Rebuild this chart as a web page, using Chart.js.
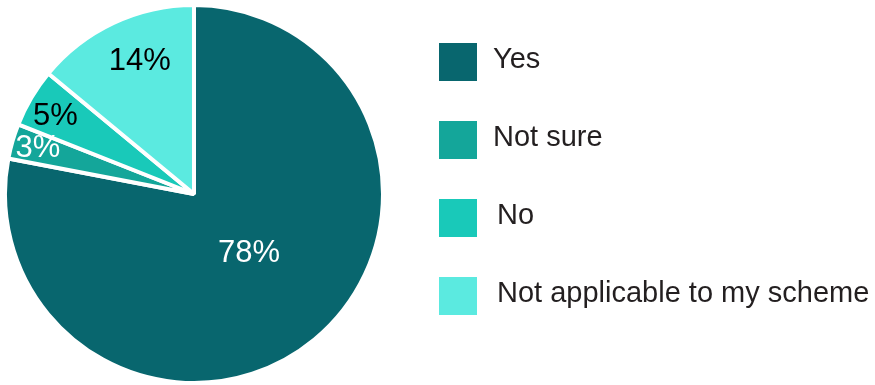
<!DOCTYPE html>
<html>
<head>
<meta charset="utf-8">
<script src="https://cdn.jsdelivr.net/npm/chart.js@4"></script>
<style>
  body { margin: 0; background: #fff; }
  #wrap { width: 875px; height: 385px; position: relative; }
</style>
</head>
<body>
<div id="wrap"><canvas id="myChart"></canvas></div>
<script>
// data
var answer_labels = ['Yes', 'Not sure', 'No', 'Not applicable to my scheme'];
var answer_values = [78, 3, 5, 14];

// styling
var slice_colors = ['#08666e', '#14a69a', '#19c9b9', '#5beae0'];
var value_colors = ['#ffffff', '#ffffff', '#000000', '#000000'];
var value_radius = [0.43, 0.86, 0.84, 0.76];   // label distance as share of radius
var value_turn = [-3, 0, -1.4, 3];             // small angle tweak in degrees
var legend_text_x = [493, 493, 497, 497];

// draws the % text on each slice
var sliceLabels = {
  id: 'sliceLabels',
  afterDatasetsDraw: function(chart) {
    var ctx = chart.ctx;
    var arcs = chart.getDatasetMeta(0).data;
    ctx.save();
    ctx.font = '31px "Liberation Sans", Arial, sans-serif';
    ctx.textAlign = 'center';
    ctx.textBaseline = 'middle';
    arcs.forEach(function(arc, i) {
      var mid = (arc.startAngle + arc.endAngle) / 2 + value_turn[i] * Math.PI / 180;
      var r = arc.outerRadius * value_radius[i];
      ctx.fillStyle = value_colors[i];
      ctx.fillText(chart.data.datasets[0].data[i] + '%', arc.x + Math.cos(mid) * r, arc.y + Math.sin(mid) * r);
    });
    ctx.restore();
  }
};

// legend on the right side
var sideLegend = {
  id: 'sideLegend',
  afterDraw: function(chart) {
    var ctx = chart.ctx;
    ctx.save();
    ctx.font = '29px "Liberation Sans", Arial, sans-serif';
    ctx.textBaseline = 'middle';
    chart.data.labels.forEach(function(lab, i) {
      var y = 43 + i * 78;
      ctx.fillStyle = slice_colors[i];
      ctx.fillRect(439, y, 38, 38);
      ctx.fillStyle = '#231f20';
      ctx.fillText(lab, legend_text_x[i], y + 17);
    });
    ctx.restore();
  }
};

var ctx = document.getElementById('myChart');
var mychart = new Chart(ctx, {
  type: 'pie',
  data: {
    labels: answer_labels,
    datasets: [{
      data: answer_values,
      backgroundColor: slice_colors,
      borderColor: '#ffffff',
      borderWidth: 4
    }]
  },
  options: {
    responsive: true,
    maintainAspectRatio: false,
    animation: false,
    layout: { padding: { left: 3, top: 3, right: 490, bottom: 0 } },
    plugins: {
      legend: { display: false },
      tooltip: { enabled: false }
    }
  },
  plugins: [sliceLabels, sideLegend]
});
</script>
</body>
</html>
